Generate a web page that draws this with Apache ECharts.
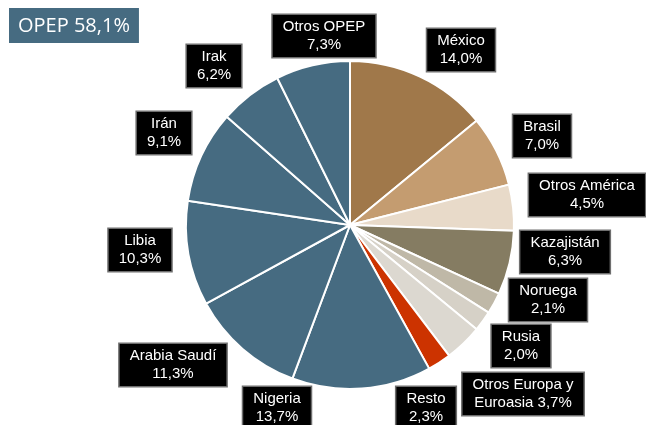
<!DOCTYPE html>
<html>
<head>
<meta charset="utf-8">
<script src="https://cdn.jsdelivr.net/npm/echarts@6/dist/echarts.min.js"></script>
<style>
  html, body {margin: 0; padding: 0; background: #fff;}
  #main {width: 646px; height: 425px;}
</style>
</head>
<body>
<div id="main"></div>
<script>
// slices clockwise from 12 o'clock
const names = ['México', 'Brasil', 'Otros América', 'Kazajistán', 'Noruega', 'Rusia',
  'Otros Europa y\nEuroasia', 'Resto', 'Nigeria', 'Arabia Saudí', 'Libia', 'Irán', 'Irak', 'Otros OPEP'];
const values = [14.0, 7.0, 4.5, 6.3, 2.1, 2.0, 3.7, 2.3, 13.7, 11.3, 10.3, 9.1, 6.2, 7.3];
const opepTotal = '58,1';

const opepColor = '#466b81';
const colors = ['#a0784a', '#c49c70', '#e8dac9', '#857c62', '#bfb8a7', '#d6d1c7', '#dcd8d0', '#cc3300',
  opepColor, opepColor, opepColor, opepColor, opepColor, opepColor];
// label box centres (px)
const labelPos = [
  [461, 50], [542, 136], [587, 195], [565, 252], [548, 300], [521, 346], [523, 394],
  [426, 408], [277, 408], [173, 365], [140, 250], [164, 133], [214, 66], [324, 36]
];

const fmt = v => v.toFixed(1).replace('.', ',') + '%';

const chart = echarts.init(document.getElementById('main'));
chart.setOption({
  animation: false,
  title: {
    text: 'OPEP ' + opepTotal + '%',
    left: 9, top: 8,
    backgroundColor: opepColor,
    padding: [8, 9, 7, 9],
    textStyle: {color: '#fff', fontSize: 20, fontWeight: 'normal', fontFamily: 'Open Sans'}
  },
  series: [{
    type: 'pie',
    center: [350, 225],
    radius: [0, 164],
    startAngle: 90,
    clockwise: true,
    avoidLabelOverlap: false,
    data: values.map((v, i) => ({name: names[i], value: v, itemStyle: {color: colors[i]}})),
    itemStyle: {borderColor: '#fff', borderWidth: 2},
    label: {
      show: true,
      position: 'outside',
      formatter: p => p.name.indexOf('\n') >= 0 ? p.name + ' ' + fmt(p.value) : p.name + '\n' + fmt(p.value),
      color: '#fff',
      backgroundColor: '#000',
      borderColor: '#6e6e6e',
      borderWidth: 1.5,
      padding: [3, 10, 3, 10],
      fontSize: 15,
      lineHeight: 18,
      fontFamily: 'Liberation Sans',
      align: 'center'
    },
    labelLine: {show: false},
    labelLayout: p => ({
      x: labelPos[p.dataIndex][0],
      y: labelPos[p.dataIndex][1],
      align: 'center',
      verticalAlign: 'middle'
    }),
    emphasis: {disabled: true}
  }]
});
</script>
</body>
</html>
